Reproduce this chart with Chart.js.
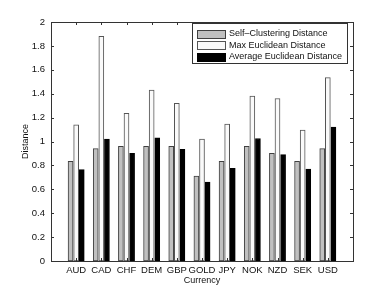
<!DOCTYPE html>
<html lang="en">
<head>
  <meta charset="UTF-8" />
  <title>Currency Distance</title>
  <script src="https://cdn.jsdelivr.net/npm/chart.js"></script>
  <style>
    html, body { margin: 0; padding: 0; background: #fff; }
    #wrap { width: 390px; height: 294px; }
  </style>
</head>
<body>
  <div id="wrap"><canvas id="distChart" width="390" height="294"></canvas></div>

  <script>
    // data
    const currencies = ['AUD', 'CAD', 'CHF', 'DEM', 'GBP', 'GOLD', 'JPY', 'NOK', 'NZD', 'SEK', 'USD'];
    const selfClustering = [0.835, 0.94, 0.96, 0.96, 0.96, 0.71, 0.835, 0.96, 0.90, 0.835, 0.94];
    const maxEuclidean = [1.14, 1.88, 1.235, 1.43, 1.32, 1.02, 1.145, 1.38, 1.36, 1.095, 1.535];
    const avgEuclidean = [0.765, 1.02, 0.90, 1.03, 0.935, 0.66, 0.775, 1.025, 0.89, 0.77, 1.12];
    const seriesNames = ['Self\u2013Clustering Distance', 'Max Euclidean Distance', 'Average Euclidean Distance'];

    const FONT = 'Liberation Sans, Arial, Helvetica, sans-serif';
    const AXIS_COLOR = '#333';

    function toPoints(values) {
      return values.map((v, i) => ({ x: i + 1, y: v }));
    }

    // box, inward ticks and the boxed legend (matlab look)
    const matlabAxes = {
      id: 'matlabAxes',
      afterDatasetsDraw(chart) {
        const { ctx, chartArea: a, scales } = chart;
        const tl = 3;
        ctx.save();
        ctx.strokeStyle = AXIS_COLOR;
        ctx.lineWidth = 1;
        ctx.beginPath();
        scales.x.ticks.forEach((t, i) => {
          const px = Math.round(scales.x.getPixelForTick(i)) + 0.5;
          ctx.moveTo(px, a.bottom); ctx.lineTo(px, a.bottom - tl);
          ctx.moveTo(px, a.top); ctx.lineTo(px, a.top + tl);
        });
        scales.y.ticks.forEach((t, i) => {
          const py = Math.round(scales.y.getPixelForTick(i)) + 0.5;
          ctx.moveTo(a.left, py); ctx.lineTo(a.left + tl, py);
          ctx.moveTo(a.right, py); ctx.lineTo(a.right - tl, py);
        });
        ctx.stroke();
        ctx.strokeRect(Math.round(a.left) + 0.5, Math.round(a.top) + 0.5,
                       Math.round(a.right - a.left), Math.round(a.bottom - a.top));

        // legend
        const lx = 192, ly = 23, lw = 155, lh = 40;
        ctx.fillStyle = '#fff';
        ctx.fillRect(lx, ly, lw, lh);
        ctx.strokeRect(lx + 0.5, ly + 0.5, lw, lh);
        ctx.font = '9px ' + FONT;
        ctx.textBaseline = 'middle';
        chart.data.datasets.forEach((ds, i) => {
          const cy = 34 + i * 11.3;
          ctx.fillStyle = ds.backgroundColor;
          ctx.fillRect(197, Math.round(cy - 4), 28, 8);
          ctx.strokeStyle = ds.borderColor;
          ctx.strokeRect(197.5, Math.round(cy - 4) + 0.5, 28, 8);
          ctx.fillStyle = '#111';
          ctx.fillText(ds.label, 229, cy);
        });
        ctx.restore();
      }
    };

    const barStyle = { barThickness: 5.6, maxBarThickness: 5, borderWidth: 1, borderSkipped: false };

    new Chart(document.getElementById('distChart'), {
      type: 'bar',
      data: {
        datasets: [
          Object.assign({ label: seriesNames[0], data: toPoints(selfClustering),
            backgroundColor: '#c0c0c0', borderColor: '#404040' }, barStyle),
          Object.assign({ label: seriesNames[1], data: toPoints(maxEuclidean),
            backgroundColor: '#fafafa', borderColor: '#555' }, barStyle),
          Object.assign({ label: seriesNames[2], data: toPoints(avgEuclidean),
            backgroundColor: '#000', borderColor: '#000' }, barStyle)
        ]
      },
      options: {
        responsive: false,
        animation: false,
        layout: { padding: { top: 22, right: 37, left: 0, bottom: 0 } },
        plugins: {
          legend: { display: false },
          tooltip: { enabled: false }
        },
        scales: {
          x: {
            type: 'linear',
            min: 0, max: 12,
            offset: false,
            afterBuildTicks: s => { s.ticks = currencies.map((c, i) => ({ value: i + 1 })); },
            afterFit: s => { s.height = 33; },
            grid: { display: false, drawTicks: false },
            border: { display: false },
            ticks: {
              autoSkip: false, maxRotation: 0, padding: 4,
              color: '#111', font: { family: FONT, size: 9.5 },
              callback: v => currencies[v - 1] || ''
            },
            title: { display: true, text: 'Currency', color: '#111',
                     font: { family: FONT, size: 9 }, padding: { top: 0, bottom: 8 } }
          },
          y: {
            min: 0, max: 2,
            afterFit: s => { s.width = 51; },
            grid: { display: false, drawTicks: false },
            border: { display: false },
            ticks: { stepSize: 0.2, padding: 6, color: '#111',
                     font: { family: FONT, size: 9.5 },
                     callback: v => +v.toFixed(1) + '' },
            title: { display: true, text: 'Distance', color: '#111',
                     font: { family: FONT, size: 9 }, padding: { top: 20, bottom: 0 } }
          }
        }
      },
      plugins: [matlabAxes]
    });
  </script>
</body>
</html>
